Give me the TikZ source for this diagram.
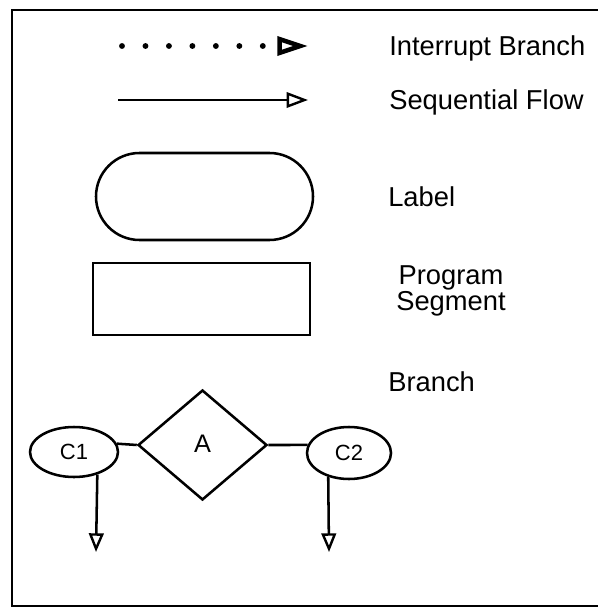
\documentclass[tikz,border=0pt]{standalone}
\usepackage{fontspec}
\setmainfont{Liberation Sans}
\usetikzlibrary{arrows.meta,shapes.geometric}
\begin{document}
\begin{tikzpicture}[x=0.75pt,y=-0.75pt,
  frameline/.style={line width=2pt},
  outline/.style={draw,line width=1.9pt,inner sep=0pt},
  legendtext/.style={inner sep=0pt,font=\fontsize{20.5}{19}\selectfont},
  flow/.style={line width=1.9pt,-{Triangle[open,length=16pt,width=11.5pt,line width=1.8pt]}},
  downflow/.style={line width=1.9pt,-{Triangle[open,length=14pt,width=11pt,line width=1.8pt]}},
  interrupt/.style={line width=4.4pt,line cap=round,dash pattern=on 0pt off 17.6pt,
    -{Triangle[open,length=23pt,width=14pt,line width=3.4pt]}},
  casenode/.style={outline,ellipse,font=\fontsize{16.5}{18}\selectfont},
]
\useasboundingbox (0,0) rectangle (598,609);

% open frame: left, top and bottom rules
\draw[frameline] (598,10) -- (12,10) -- (12,606) -- (598,606);

% legend: arrow styles
\coordinate (ib0) at (122,46);
\coordinate (ib1) at (308,46);
\draw[interrupt] (ib0) -- (ib1);
\node[legendtext,anchor=west] (ibtext) at (389,48) {Interrupt Branch};

\coordinate (sf0) at (118,100);
\coordinate (sf1) at (308,100);
\draw[flow] (sf0) -- (sf1);
\node[legendtext,anchor=west] (sftext) at (389,102) {Sequential Flow};

% legend: shapes
\node[outline,minimum width=162.75pt,minimum height=65.25pt,rounded corners=32.6pt]
  (lbl) at (204.5,196.5) {};
\node[legendtext,anchor=west] (lbltext) at (388,197) {Label};

\node[outline,minimum width=162.75pt,minimum height=54pt] (seg) at (201.5,299) {};
\node[legendtext,align=center] (segtext) at (451,291) {Program\\Segment};

\node[legendtext,anchor=west] (brtext) at (388,382) {Branch};

% branch example
\node[outline,diamond,aspect=1.17,minimum width=96.75pt,minimum height=82.5pt,
  font=\fontsize{19}{20}\selectfont] (D) at (202.5,445) {\raisebox{2pt}{A}};
\node[casenode,minimum width=66pt,minimum height=37.5pt] (C1) at (74,452) {C1};
\node[casenode,minimum width=63pt,minimum height=39pt] (C2) at (349,453) {C2};

\draw[line width=1.9pt] (C1.11) -- (D.west);
\draw[line width=1.9pt] (D.east) -- (C2.169);

\coordinate (e1) at (96,552);
\coordinate (e2) at (329,552);
\draw[downflow] (C1.-44.5) -- (e1);
\draw[downflow] (C2.-131) -- (e2);
\end{tikzpicture}
\end{document}
